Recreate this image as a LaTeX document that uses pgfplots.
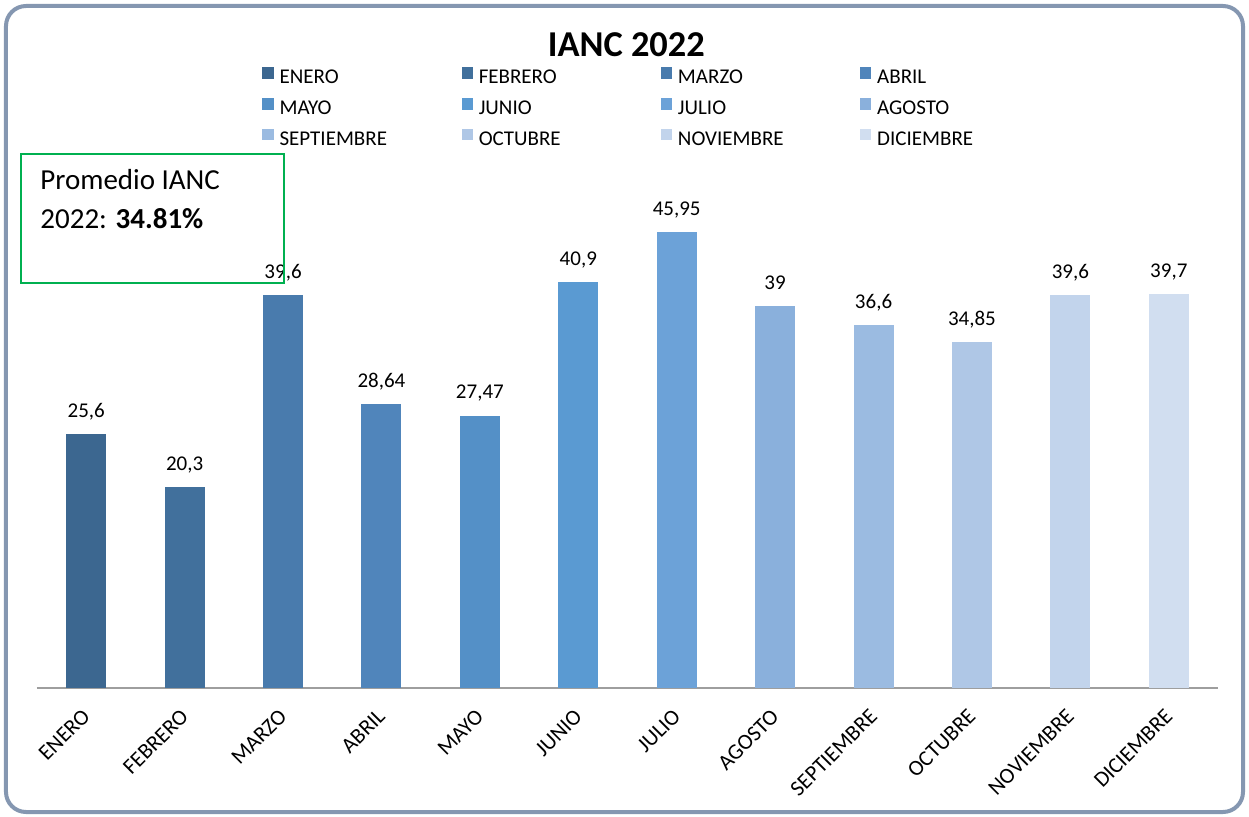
\documentclass[border=0pt]{standalone}
\usepackage{pgfplots}
\pgfplotsset{compat=1.18}
\usepackage{fontspec}
\setmainfont{Carlito}
\definecolor{c1}{HTML}{3C6790}
\definecolor{c2}{HTML}{41709C}
\definecolor{c3}{HTML}{497BAD}
\definecolor{c4}{HTML}{5085BB}
\definecolor{c5}{HTML}{5490C7}
\definecolor{c6}{HTML}{5A9AD2}
\definecolor{c7}{HTML}{6CA2D8}
\definecolor{c8}{HTML}{8AB0DC}
\definecolor{c9}{HTML}{9BBBE1}
\definecolor{c10}{HTML}{AFC7E6}
\definecolor{c11}{HTML}{C2D4EC}
\definecolor{c12}{HTML}{D1DEF0}
\definecolor{frame}{HTML}{8597B1}
\definecolor{boxgreen}{HTML}{00B050}
\newcommand{\legtxt}[1]{\makebox[91pt][l]{\rule[-4pt]{0pt}{15.25pt}#1}}
\newcommand{\fs}{\fontsize{10.5}{12}\selectfont}
\begin{document}
\begin{tikzpicture}
\path[use as bounding box] (-18.5pt,-64pt) rectangle (606pt,344pt);
\draw[frame, line width=2pt, rounded corners=10pt] (-15.5pt,-62pt) rectangle (603pt,341pt);
\begin{axis}[
  at={(0pt,0pt)}, anchor=south west,
  scale only axis, width=590.5pt, height=248pt,
  xmin=-0.5, xmax=11.5, ymin=0, ymax=50,
  ybar, bar width=20pt, bar shift=0pt,
  clip=false,
  axis y line=none, axis x line*=bottom,
  x axis line style={-, draw=black!38, line width=0.8pt},
  xtick={0,...,11},
  xticklabels={ENERO,FEBRERO,MARZO,ABRIL,MAYO,JUNIO,JULIO,AGOSTO,SEPTIEMBRE,OCTUBRE,NOVIEMBRE,DICIEMBRE},
  xtick style={draw=none},
  xticklabel style={rotate=45, anchor=north east, inner sep=0pt, font=\fontsize{11}{13}\selectfont, xshift=-5.6pt, yshift=-1.9pt},
  ytick=\empty,
  title={IANC 2022},
  every axis title shift=0pt,
  title style={at={(0.499,1.2730)}, anchor=base, inner sep=0pt, font=\fontsize{18.2}{21}\selectfont\bfseries},
  point meta=explicit symbolic,
  nodes near coords={\pgfplotspointmeta},
  nodes near coords style={anchor=base, inner sep=0pt, yshift=8.3pt, font=\fs, text=black},
  legend columns=4,
  legend image code/.code={\fill[#1, draw=none] (0pt,-2.5pt) rectangle (5.6pt,3.1pt);},
  legend style={draw=none, fill=none, at={(0.1905,1.2651)}, anchor=north west, inner sep=0pt, font=\fs,
    nodes={inner sep=0pt}, column sep=0pt, row sep=2.7pt,
    /tikz/every odd column/.append style={column sep=3.0pt}},
]
\addplot[fill=c1, draw=none, bar shift=0pt] coordinates {(0,25.6) [25,6]};
\addplot[fill=c2, draw=none, bar shift=0pt] coordinates {(1,20.3) [20,3]};
\addplot[fill=c3, draw=none, bar shift=0pt] coordinates {(2,39.6) [39,6]};
\addplot[fill=c4, draw=none, bar shift=0pt] coordinates {(3,28.64) [28,64]};
\addplot[fill=c5, draw=none, bar shift=0pt] coordinates {(4,27.47) [27,47]};
\addplot[fill=c6, draw=none, bar shift=0pt] coordinates {(5,40.9) [40,9]};
\addplot[fill=c7, draw=none, bar shift=0pt] coordinates {(6,45.95) [45,95]};
\addplot[fill=c8, draw=none, bar shift=0pt] coordinates {(7,38.5) [39]};
\addplot[fill=c9, draw=none, bar shift=0pt] coordinates {(8,36.6) [36,6]};
\addplot[fill=c10, draw=none, bar shift=0pt] coordinates {(9,34.85) [34,85]};
\addplot[fill=c11, draw=none, bar shift=0pt] coordinates {(10,39.6) [39,6]};
\addplot[fill=c12, draw=none, bar shift=0pt] coordinates {(11,39.7) [39,7]};
\legend{\legtxt{ENERO},\legtxt{FEBRERO},\legtxt{MARZO},\legtxt{ABRIL},\legtxt{MAYO},\legtxt{JUNIO},\legtxt{JULIO},\legtxt{AGOSTO},\legtxt{SEPTIEMBRE},\legtxt{OCTUBRE},\legtxt{NOVIEMBRE},\legtxt{DICIEMBRE}}
\end{axis}
\draw[boxgreen, line width=1pt] (-8pt,202.5pt) rectangle (123.5pt,267pt);
\node[anchor=base west, inner sep=0pt, font=\fontsize{14.5}{17}\selectfont] at (1.5pt,249.5pt) {Promedio IANC};
\node[anchor=base west, inner sep=0pt, font=\fontsize{14.5}{17}\selectfont] at (1.5pt,230pt) {2022: \textbf{34.81\%}};
\end{tikzpicture}
\end{document}
